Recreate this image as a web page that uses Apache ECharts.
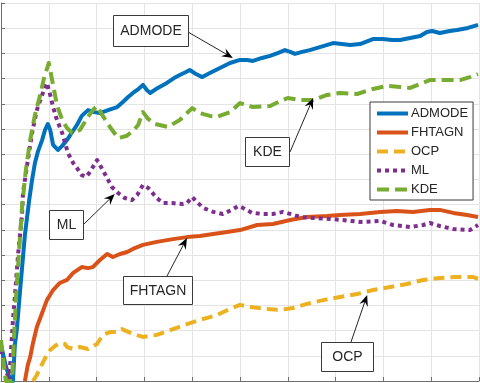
<!DOCTYPE html>
<html><head><meta charset="utf-8">
<script src="https://cdn.jsdelivr.net/npm/echarts@6/dist/echarts.min.js"></script>
<style>html,body{margin:0;padding:0;background:#fff}#c{width:480px;height:383px}</style>
</head><body><div id="c"></div>
<script>
const seriesNames = ['ADMODE', 'FHTAGN', 'OCP', 'ML', 'KDE'];
const xRange = [0, 100];
const yRange = [0, 150];

const admode = [[0,14.3],[1.0,6.0],[2.0,0],[2.5,0],[2.9,14.3],[3.3,20.2],[4.0,36.1],[5.0,57.9],[5.9,71.8],[6.5,79.8],[7.1,86.5],[7.7,90.9],[8.6,95.6],[9.2,99.6],[9.8,102.0],[10.3,99.6],[10.9,93.7],[11.9,91.7],[12.8,93.3],[13.8,95.6],[14.9,98.8],[15.9,101.6],[16.9,105.2],[18.2,107.5],[19.5,106.7],[20.7,106.3],[22.4,107.5],[24.3,108.7],[25.5,110.7],[26.6,112.7],[27.6,114.3],[28.5,115.5],[29.7,117.5],[30.5,115.5],[31.2,114.3],[32.8,116.3],[34.7,118.3],[36.2,120.2],[37.4,121.4],[38.7,122.6],[39.5,123.4],[40.8,121.8],[42.1,120.6],[43.7,122.2],[45.8,124.2],[47.9,126.2],[50.0,127.4],[51.5,127.4],[52.7,127.0],[54.6,128.2],[56.3,129.0],[58.0,130.2],[59.4,131.3],[60.5,130.6],[61.5,129.8],[63.0,130.6],[64.6,131.3],[66.7,132.5],[69.5,134.1],[71.3,133.7],[73.0,133.3],[75.1,133.7],[77.8,135.7],[79.9,135.7],[81.8,135.3],[83.5,135.3],[85.6,136.1],[87.7,136.9],[89.1,138.5],[90.2,138.9],[91.8,138.1],[93.9,138.9],[95.4,139.3],[97.7,140.1],[99.8,141.3]];

const fhtagn = [[5.0,0],[5.6,6.3],[6.1,9.5],[6.7,15.1],[7.5,21.4],[8.6,27.0],[9.6,32.1],[10.9,36.1],[12.3,38.9],[13.8,40.1],[15.1,42.9],[16.9,45.2],[18.2,44.8],[19.2,45.2],[20.7,48.0],[22.2,50.4],[23.4,49.2],[24.9,50.4],[26.4,51.2],[27.6,52.4],[29.7,54.0],[32.6,55.2],[36.0,56.3],[38.9,57.1],[41.6,57.5],[44.4,58.3],[47.3,59.1],[50.0,59.9],[53.6,61.9],[56.9,62.3],[60.5,63.9],[64.0,65.1],[68.2,65.5],[70.9,65.9],[75.1,66.3],[79.3,67.1],[82.8,67.5],[86.2,67.1],[89.7,67.9],[91.8,67.9],[94.6,66.7],[97.5,65.9],[99.8,65.1]];

const ocp = [[6.7,0],[7.5,2.4],[8.2,5.2],[8.8,7.5],[9.6,10.3],[10.3,12.3],[11.3,13.9],[12.3,15.1],[13.4,14.7],[13.8,13.5],[15.1,12.7],[16.5,13.5],[18.2,12.7],[20.1,14.7],[21.3,18.3],[22.8,19.4],[24.3,19.4],[25.3,20.6],[27.6,18.7],[29.7,17.5],[32.6,18.3],[35.4,20.2],[38.9,22.6],[41.6,24.2],[45.2,26.2],[47.9,28.6],[50.0,30.2],[52.1,29.4],[55.6,28.6],[58.4,28.2],[61.1,29.0],[64.0,30.6],[67.4,32.1],[70.9,33.3],[74.5,34.5],[77.8,36.1],[81.4,37.3],[84.9,38.5],[88.3,40.1],[91.8,40.9],[95.4,41.3],[98.7,41.3],[99.8,40.5]];

const ml = [[0,12.3],[0.8,6.3],[1.7,0],[2.1,0],[2.5,24.2],[2.9,33.3],[3.6,50.8],[4.4,65.9],[4.6,74.6],[5.4,84.9],[6.5,98.4],[7.5,107.5],[8.6,113.5],[9.6,118.3],[10.3,113.5],[10.9,108.7],[11.7,103.6],[12.8,98.4],[14.0,90.5],[15.1,86.5],[15.9,84.5],[16.9,81.7],[17.8,81.0],[18.6,82.9],[20.1,87.7],[21.3,83.7],[22.4,79.8],[23.2,77.0],[24.5,74.6],[25.9,72.6],[27.4,71.8],[28.5,73.8],[29.7,77.8],[30.8,76.6],[32.6,72.6],[33.9,70.6],[35.8,70.6],[37.9,70.2],[38.9,70.6],[40.0,73.0],[41.0,71.0],[42.3,68.7],[44.4,67.1],[46.4,66.3],[48.3,67.9],[49.6,69.4],[50.6,68.7],[52.5,66.7],[54.8,66.3],[56.9,66.3],[59.0,67.1],[60.5,66.3],[62.6,65.1],[65.3,64.7],[68.8,64.3],[71.5,63.9],[75.1,63.1],[79.3,63.5],[82.0,61.9],[85.6,61.1],[88.3,61.9],[89.7,62.7],[91.8,61.5],[94.6,60.3],[98.1,59.9],[99.8,61.9]];

const kde = [[0,16.3],[1.0,0],[2.3,0],[2.7,16.3],[3.1,32.1],[3.8,52.0],[4.4,69.0],[5.2,83.7],[6.1,95.6],[7.1,105.6],[8.2,113.5],[9.0,120.2],[10.0,126.2],[10.9,117.5],[11.7,109.5],[12.8,103.6],[13.8,100.4],[14.9,98.4],[16.5,99.6],[18.2,104.8],[19.2,107.5],[20.1,109.1],[21.3,105.2],[22.8,100.8],[24.5,96.4],[26.2,97.2],[27.6,99.2],[28.7,101.6],[29.3,104.8],[29.7,106.7],[30.8,104.0],[32.2,102.0],[34.9,100.8],[37.4,103.6],[40.0,108.3],[41.6,106.3],[43.7,105.2],[45.2,104.8],[47.9,106.7],[50.0,110.3],[52.7,108.7],[56.3,109.1],[58.4,111.1],[60.0,112.3],[62.6,111.5],[65.3,111.5],[68.2,113.5],[70.9,114.3],[74.5,113.9],[77.8,115.9],[80.8,117.1],[83.5,116.7],[85.6,116.3],[87.7,117.9],[89.7,119.4],[93.3,119.4],[96.0,119.4],[98.1,120.6],[99.8,121.8]];

// annotation labels: tip points in data units
const annotLabels = ['ADMODE', 'KDE', 'ML', 'FHTAGN', 'OCP'];
const annotTips = [[48.5,128.2],[65.3,112.3],[23.8,74.2],[38.9,56.7],[76.6,34.1]];

// layout (pixels)
const annotBoxes = [
  {x:113, y:15, w:75, h:31, sx:188, sy:32},
  {x:245, y:137, w:44, h:29, sx:290, sy:152},
  {x:49, y:210, w:34, h:29, sx:83, sy:225},
  {x:123, y:276, w:69, h:28, sx:167, sy:276},
  {x:321, y:342, w:52, h:29, sx:351, sy:342}
];

const colors = ['#0072BD', '#D95319', '#EDB120', '#7E2F8E', '#77AC30'];
const dataSets = [admode, fhtagn, ocp, ml, kde];
const lineTypes = ['solid', 'solid', [11, 6], [4, 4], [12, 6]];

const chart = echarts.init(document.getElementById('c'), null, {renderer: 'canvas'});
const font = 'Liberation Sans, Arial, Helvetica, sans-serif';

chart.setOption({
  animation: false,
  backgroundColor: '#ffffff',
  grid: {left: 1, right: 1, top: 3, bottom: 2, containLabel: false},
  xAxis: {
    type: 'value', min: xRange[0], max: xRange[1], interval: 10,
    axisLine: {show: true, onZero: false, lineStyle: {color: '#6e6e6e', width: 1}},
    axisTick: {show: true, inside: true, length: 4, lineStyle: {color: '#6e6e6e'}},
    axisLabel: {show: false},
    splitLine: {show: true, lineStyle: {color: '#e4e4e4', width: 1}}
  },
  yAxis: {
    type: 'value', min: yRange[0], max: yRange[1], interval: 10,
    axisLine: {show: true, onZero: false, lineStyle: {color: '#6e6e6e', width: 1}},
    axisTick: {show: true, inside: true, length: 4, lineStyle: {color: '#6e6e6e'}},
    axisLabel: {show: false},
    splitLine: {show: true, lineStyle: {color: '#e4e4e4', width: 1}}
  },
  legend: {
    show: true, orient: 'vertical', left: 370, top: 102,
    data: seriesNames,
    itemWidth: 31, itemHeight: 12, itemGap: 6,
    padding: [5, 5, 4, 5],
    backgroundColor: '#ffffff', borderColor: '#3a3a3a', borderWidth: 1, borderRadius: 0,
    itemStyle: {opacity: 0},
    lineStyle: {width: 4},
    textStyle: {fontFamily: font, fontSize: 13, color: '#262626', padding: [0,0,0,-2]},
    selectedMode: false
  },
  series: seriesNames.map((n, i) => ({
    name: n, type: 'line', data: dataSets[i], symbol: 'none', showSymbol: false,
    clip: true,
    lineStyle: {color: colors[i], width: 4, type: lineTypes[i], cap: 'butt', join: 'round'},
    itemStyle: {color: colors[i]},
    emphasis: {disabled: true}
  }))
});

function buildAnnotations() {
  const els = [];
  annotLabels.forEach((lab, i) => {
    const b = annotBoxes[i];
    const tip = chart.convertToPixel({gridIndex: 0}, annotTips[i]);
    const tx = tip[0], ty = tip[1];
    const dx = tx - b.sx, dy = ty - b.sy;
    const len = Math.sqrt(dx*dx + dy*dy);
    const ux = dx/len, uy = dy/len, nx = -uy, ny = ux;
    const L = 11, W = 9;
    const bx = tx - ux*L, by = ty - uy*L;
    els.push({type: 'line', z: 100, shape: {x1: b.sx, y1: b.sy, x2: tx - ux*6, y2: ty - uy*6}, style: {stroke: '#262626', lineWidth: 1}});
    els.push({type: 'polygon', z: 101, shape: {points: [[tx, ty], [bx + nx*W/2, by + ny*W/2], [tx - ux*L*0.65, ty - uy*L*0.65], [bx - nx*W/2, by - ny*W/2]]}, style: {fill: '#000'}});
    els.push({type: 'rect', z: 100, shape: {x: b.x + 0.5, y: b.y + 0.5, width: b.w, height: b.h}, style: {fill: '#fff', stroke: '#3a3a3a', lineWidth: 1}});
    els.push({type: 'text', z: 102, x: b.x + b.w/2 + 0.5, y: b.y + b.h/2 + 1, style: {text: lab, fontFamily: font, fontSize: 14, fill: '#262626', align: 'center', verticalAlign: 'middle'}});
  });
  chart.setOption({graphic: {elements: els}});
}
buildAnnotations();
</script>
</body></html>
